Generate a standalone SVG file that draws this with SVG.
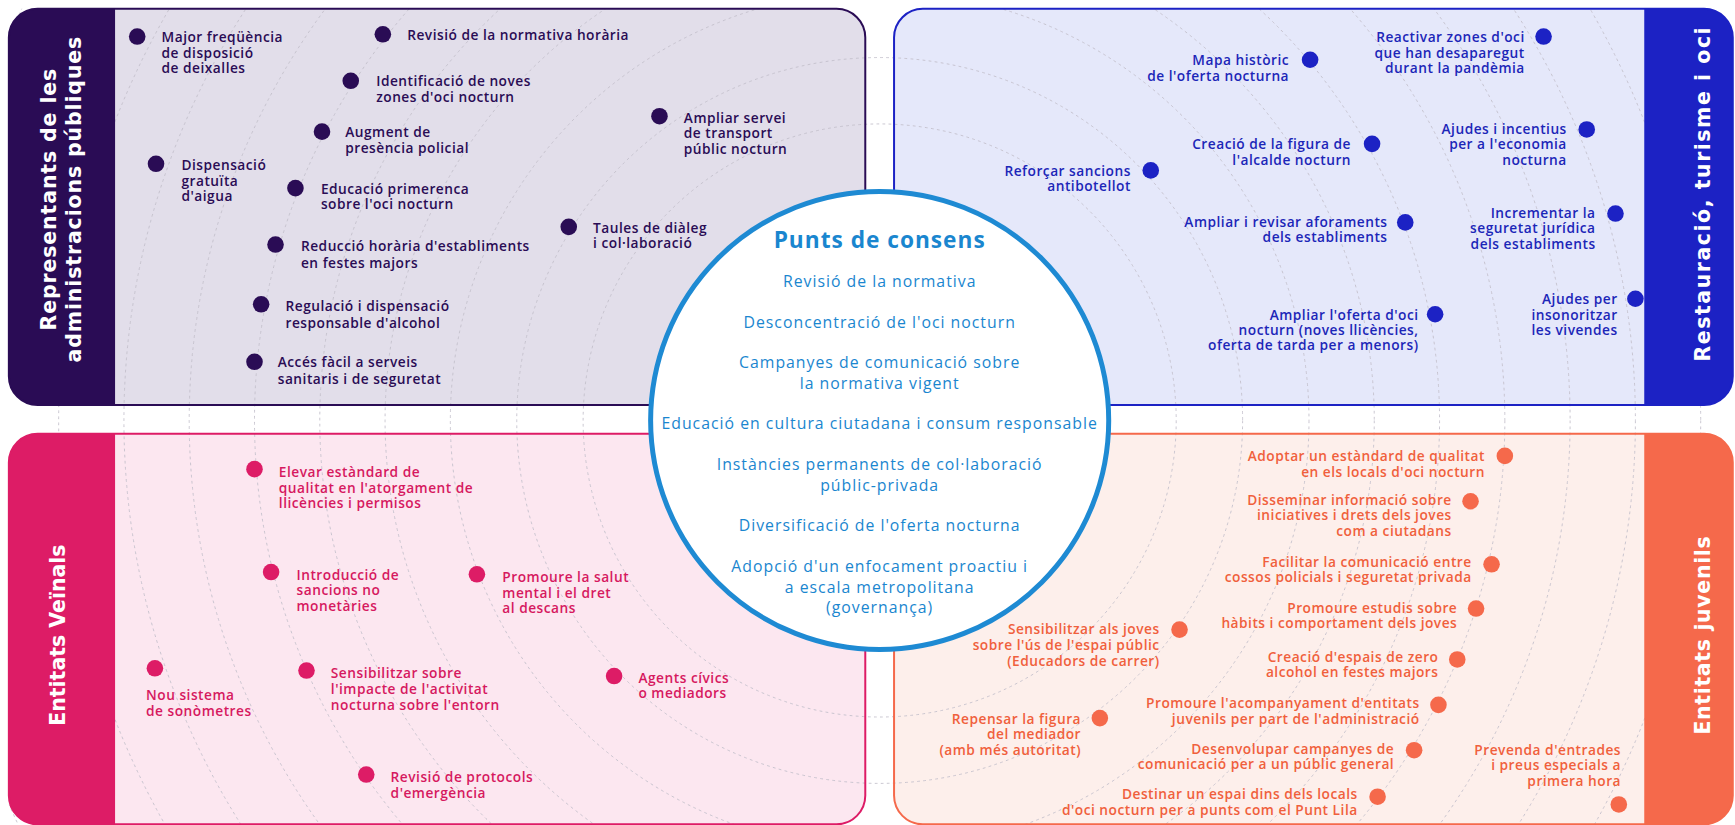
<svg xmlns="http://www.w3.org/2000/svg" width="1735" height="825" viewBox="0 0 1735 825">
<defs>
<style>
.arc{fill:none;stroke:#c3c0cb;stroke-width:0.8;stroke-dasharray:2.5 3}
.side{font-family:"DejaVu Sans","Liberation Sans",sans-serif;font-weight:bold;font-size:18.5px;fill:#ffffff;text-anchor:middle}
.it{font-family:"Open Sans","Liberation Sans",sans-serif;font-weight:600;font-size:12.4px;letter-spacing:0.45px}
.tl{fill:#2a0c55}
.tr{fill:#1c26b8;text-anchor:end}
.bl{fill:#d6195f}
.br{fill:#f0603c;text-anchor:end}
.ct{font-family:"Open Sans","Liberation Sans",sans-serif;font-size:14.3px;letter-spacing:0.9px;fill:#1a86cf;text-anchor:middle}
.ch{font-family:"Open Sans","Liberation Sans",sans-serif;font-weight:bold;font-size:20.5px;letter-spacing:0.9px;fill:#1a86cf;text-anchor:middle}
.dtl{fill:#2a0c55}.dtr{fill:#1c22c4}.dbl{fill:#dd1c66}.dbr{fill:#f5694b}
</style>
<clipPath id="clipAll"><rect x="8" y="8" width="1558" height="737"/></clipPath>
</defs>
<rect width="1735" height="825" fill="#ffffff"/>
<g transform="scale(1.1065)">
<g id="panel-bgs">
<rect x="8" y="8" width="774" height="358" rx="26" fill="#e2deea"/>
<rect x="808" y="8" width="758" height="358" rx="26" fill="#e5e8fa"/>
<rect x="8" y="392" width="774" height="353" rx="26" fill="#fce7f0"/>
<rect x="808" y="392" width="758" height="353" rx="26" fill="#fdefeb"/>
</g>
<g id="arcs" clip-path="url(#clipAll)">
<circle class="arc" cx="795" cy="380" r="268"/>
<circle class="arc" cx="795" cy="380" r="328"/>
<circle class="arc" cx="795" cy="380" r="388"/>
<circle class="arc" cx="795" cy="380" r="447"/>
<circle class="arc" cx="795" cy="380" r="506"/>
<circle class="arc" cx="795" cy="380" r="565"/>
<circle class="arc" cx="795" cy="380" r="624"/>
<circle class="arc" cx="795" cy="380" r="683"/>
<circle class="arc" cx="795" cy="380" r="742"/>
<circle class="arc" cx="795" cy="380" r="801"/>
<circle class="arc" cx="795" cy="380" r="860"/>
<circle class="arc" cx="795" cy="380" r="919"/>
</g>
<g id="panel-administracions">
<path d="M34 8H104V366H34A26 26 0 0 1 8 340V34A26 26 0 0 1 34 8Z" fill="#2a0c55"/>
<rect x="8" y="8" width="774" height="358" rx="26" fill="none" stroke="#2a0c55" stroke-width="1.8"/>
<text class="side" style="letter-spacing:0.8px" transform="translate(51 180) rotate(-90)">Representants de les</text>
<text class="side" style="letter-spacing:0.8px" transform="translate(73 180) rotate(-90)">administracions públiques</text>
</g>
<g id="panel-restauracio">
<path d="M1486 8H1540A26 26 0 0 1 1566 34V340A26 26 0 0 1 1540 366H1486Z" fill="#1c22c4"/>
<rect x="808" y="8" width="758" height="358" rx="26" fill="none" stroke="#1c22c4" stroke-width="1.8"/>
<text class="side" style="letter-spacing:1.4px" transform="translate(1545 175) rotate(-90)">Restauració, turisme i oci</text>
</g>
<g id="panel-veinals">
<path d="M34 392H104V745H34A26 26 0 0 1 8 719V418A26 26 0 0 1 34 392Z" fill="#dd1c66"/>
<rect x="8" y="392" width="774" height="353" rx="26" fill="none" stroke="#dd1c66" stroke-width="1.8"/>
<text class="side" transform="translate(59 574) rotate(-90)">Entitats Veïnals</text>
</g>
<g id="panel-juvenils">
<path d="M1486 392H1540A26 26 0 0 1 1566 418V719A26 26 0 0 1 1540 745H1486Z" fill="#f5694b"/>
<rect x="808" y="392" width="758" height="353" rx="26" fill="none" stroke="#f5694b" stroke-width="1.8"/>
<text class="side" style="letter-spacing:0.6px" transform="translate(1545 574) rotate(-90)">Entitats juvenils</text>
</g>
<g id="punts-de-consens">
<circle cx="795" cy="380" r="207" fill="#ffffff" stroke="#1e8ad3" stroke-width="4.5"/>
<text class="ch" x="795" y="224">Punts de consens</text>
<text class="ct" x="795" y="259">Revisió de la normativa</text>
<text class="ct" x="795" y="296">Desconcentració de l'oci nocturn</text>
<text class="ct" x="795" y="333">Campanyes de comunicació sobre<tspan x="795" dy="19">la normativa vigent</tspan></text>
<text class="ct" x="795" y="388">Educació en cultura ciutadana i consum responsable</text>
<text class="ct" x="795" y="425">Instàncies permanents de col·laboració<tspan x="795" dy="18.5">públic-privada</tspan></text>
<text class="ct" x="795" y="480">Diversificació de l'oferta nocturna</text>
<text class="ct" x="795" y="517">Adopció d'un enfocament proactiu i<tspan x="795" dy="18.5">a escala metropolitana</tspan><tspan x="795" dy="18.5">(governança)</tspan></text>
</g>
<g id="tl-1"><circle class="dtl" cx="124" cy="33" r="7.5"/><text class="it tl" x="146" y="38">Major freqüència<tspan x="146" dy="14">de disposició</tspan><tspan x="146" dy="14">de deixalles</tspan></text></g>
<g id="tl-2"><circle class="dtl" cx="346" cy="31" r="7.5"/><text class="it tl" x="368" y="36">Revisió de la normativa horària</text></g>
<g id="tl-3"><circle class="dtl" cx="317" cy="73" r="7.5"/><text class="it tl" x="340" y="78">Identificació de noves<tspan x="340" dy="14">zones d'oci nocturn</tspan></text></g>
<g id="tl-4"><circle class="dtl" cx="291" cy="119" r="7.5"/><text class="it tl" x="312" y="124">Augment de<tspan x="312" dy="14">presència policial</tspan></text></g>
<g id="tl-5"><circle class="dtl" cx="141" cy="148" r="7.5"/><text class="it tl" x="164" y="154">Dispensació<tspan x="164" dy="14">gratuïta</tspan><tspan x="164" dy="14">d'aigua</tspan></text></g>
<g id="tl-6"><circle class="dtl" cx="267" cy="170" r="7.5"/><text class="it tl" x="290" y="175">Educació primerenca<tspan x="290" dy="14">sobre l'oci nocturn</tspan></text></g>
<g id="tl-7"><circle class="dtl" cx="249" cy="221" r="7.5"/><text class="it tl" x="272" y="227">Reducció horària d'establiments<tspan x="272" dy="15">en festes majors</tspan></text></g>
<g id="tl-8"><circle class="dtl" cx="236" cy="275" r="7.5"/><text class="it tl" x="258" y="281">Regulació i dispensació<tspan x="258" dy="15">responsable d'alcohol</tspan></text></g>
<g id="tl-9"><circle class="dtl" cx="230" cy="327" r="7.5"/><text class="it tl" x="251" y="332">Accés fàcil a serveis<tspan x="251" dy="15">sanitaris i de seguretat</tspan></text></g>
<g id="tl-10"><circle class="dtl" cx="596" cy="105" r="7.5"/><text class="it tl" x="618" y="111">Ampliar servei<tspan x="618" dy="14">de transport</tspan><tspan x="618" dy="14">públic nocturn</tspan></text></g>
<g id="tl-11"><circle class="dtl" cx="514" cy="205" r="7.5"/><text class="it tl" x="536" y="211">Taules de diàleg<tspan x="536" dy="13">i col·laboració</tspan></text></g>
<g id="tr-1"><circle class="dtr" cx="1184" cy="54" r="7.5"/><text class="it tr" x="1165" y="59">Mapa històric<tspan x="1165" dy="14">de l'oferta nocturna</tspan></text></g>
<g id="tr-2"><circle class="dtr" cx="1395" cy="33" r="7.5"/><text class="it tr" x="1378" y="38">Reactivar zones d'oci<tspan x="1378" dy="14">que han desaparegut</tspan><tspan x="1378" dy="14">durant la pandèmia</tspan></text></g>
<g id="tr-3"><circle class="dtr" cx="1434" cy="117" r="7.5"/><text class="it tr" x="1416" y="121">Ajudes i incentius<tspan x="1416" dy="14">per a l'economia</tspan><tspan x="1416" dy="14">nocturna</tspan></text></g>
<g id="tr-4"><circle class="dtr" cx="1240" cy="130" r="7.5"/><text class="it tr" x="1221" y="135">Creació de la figura de<tspan x="1221" dy="14">l'alcalde nocturn</tspan></text></g>
<g id="tr-5"><circle class="dtr" cx="1040" cy="154" r="7.5"/><text class="it tr" x="1022" y="159">Reforçar sancions<tspan x="1022" dy="14">antibotellot</tspan></text></g>
<g id="tr-6"><circle class="dtr" cx="1270" cy="201" r="7.5"/><text class="it tr" x="1254" y="205">Ampliar i revisar aforaments<tspan x="1254" dy="14">dels establiments</tspan></text></g>
<g id="tr-7"><circle class="dtr" cx="1460" cy="193" r="7.5"/><text class="it tr" x="1442" y="197">Incrementar la<tspan x="1442" dy="14">seguretat jurídica</tspan><tspan x="1442" dy="14">dels establiments</tspan></text></g>
<g id="tr-8"><circle class="dtr" cx="1297" cy="284" r="7.5"/><text class="it tr" x="1282" y="289">Ampliar l'oferta d'oci<tspan x="1282" dy="13.5">nocturn (noves llicències,</tspan><tspan x="1282" dy="13.5">oferta de tarda per a menors)</tspan></text></g>
<g id="tr-9"><circle class="dtr" cx="1478" cy="270" r="7.5"/><text class="it tr" x="1462" y="275">Ajudes per<tspan x="1462" dy="14">insonoritzar</tspan><tspan x="1462" dy="14">les vivendes</tspan></text></g>
<g id="bl-1"><circle class="dbl" cx="230" cy="424" r="7.5"/><text class="it bl" x="252" y="431">Elevar estàndard de<tspan x="252" dy="14.5">qualitat en l'atorgament de</tspan><tspan x="252" dy="14">llicències i permisos</tspan></text></g>
<g id="bl-2"><circle class="dbl" cx="245" cy="517" r="7.5"/><text class="it bl" x="268" y="524">Introducció de<tspan x="268" dy="14">sancions no</tspan><tspan x="268" dy="14">monetàries</tspan></text></g>
<g id="bl-3"><circle class="dbl" cx="431" cy="519" r="7.5"/><text class="it bl" x="454" y="526">Promoure la salut<tspan x="454" dy="14">mental i el dret</tspan><tspan x="454" dy="14">al descans</tspan></text></g>
<g id="bl-4"><circle class="dbl" cx="140" cy="604" r="7.5"/><text class="it bl" x="132" y="633">Nou sistema<tspan x="132" dy="14">de sonòmetres</tspan></text></g>
<g id="bl-5"><circle class="dbl" cx="277" cy="606" r="7.5"/><text class="it bl" x="299" y="613">Sensibilitzar sobre<tspan x="299" dy="14.5">l'impacte de l'activitat</tspan><tspan x="299" dy="14">nocturna sobre l'entorn</tspan></text></g>
<g id="bl-6"><circle class="dbl" cx="555" cy="611" r="7.5"/><text class="it bl" x="577" y="617">Agents cívics<tspan x="577" dy="14">o mediadors</tspan></text></g>
<g id="bl-7"><circle class="dbl" cx="331" cy="700" r="7.5"/><text class="it bl" x="353" y="707">Revisió de protocols<tspan x="353" dy="14">d'emergència</tspan></text></g>
<g id="br-1"><circle class="dbr" cx="1360" cy="412" r="7.5"/><text class="it br" x="1342" y="417">Adoptar un estàndard de qualitat<tspan x="1342" dy="14">en els locals d'oci nocturn</tspan></text></g>
<g id="br-2"><circle class="dbr" cx="1329" cy="453" r="7.5"/><text class="it br" x="1312" y="456">Disseminar informació sobre<tspan x="1312" dy="14">iniciatives i drets dels joves</tspan><tspan x="1312" dy="14">com a ciutadans</tspan></text></g>
<g id="br-3"><circle class="dbr" cx="1348" cy="510" r="7.5"/><text class="it br" x="1330" y="512">Facilitar la comunicació entre<tspan x="1330" dy="14">cossos policials i seguretat privada</tspan></text></g>
<g id="br-4"><circle class="dbr" cx="1334" cy="550" r="7.5"/><text class="it br" x="1317" y="554">Promoure estudis sobre<tspan x="1317" dy="14">hàbits i comportament dels joves</tspan></text></g>
<g id="br-5"><circle class="dbr" cx="1066" cy="569" r="7.5"/><text class="it br" x="1048" y="573">Sensibilitzar als joves<tspan x="1048" dy="14.5">sobre l'ús de l'espai públic</tspan><tspan x="1048" dy="14.5">(Educadors de carrer)</tspan></text></g>
<g id="br-6"><circle class="dbr" cx="1317" cy="596" r="7.5"/><text class="it br" x="1300" y="598">Creació d'espais de zero<tspan x="1300" dy="14">alcohol en festes majors</tspan></text></g>
<g id="br-7"><circle class="dbr" cx="994" cy="649" r="7.5"/><text class="it br" x="977" y="654">Repensar la figura<tspan x="977" dy="14">del mediador</tspan><tspan x="977" dy="14">(amb més autoritat)</tspan></text></g>
<g id="br-8"><circle class="dbr" cx="1300" cy="637" r="7.5"/><text class="it br" x="1283" y="640">Promoure l'acompanyament d'entitats<tspan x="1283" dy="14">juvenils per part de l'administració</tspan></text></g>
<g id="br-9"><circle class="dbr" cx="1278" cy="678" r="7.5"/><text class="it br" x="1260" y="681">Desenvolupar campanyes de<tspan x="1260" dy="14">comunicació per a un públic general</tspan></text></g>
<g id="br-10"><circle class="dbr" cx="1463" cy="727" r="7.5"/><text class="it br" x="1465" y="682">Prevenda d'entrades<tspan x="1465" dy="14">i preus especials a</tspan><tspan x="1465" dy="14">primera hora</tspan></text></g>
<g id="br-11"><circle class="dbr" cx="1245" cy="720" r="7.5"/><text class="it br" x="1227" y="722">Destinar un espai dins dels locals<tspan x="1227" dy="15">d'oci nocturn per a punts com el Punt Lila</tspan></text></g>
</g>
</svg>
